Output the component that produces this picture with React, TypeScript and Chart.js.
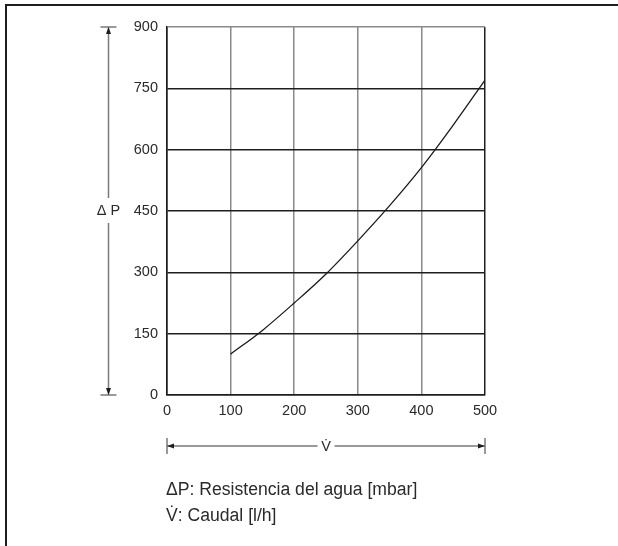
import { useEffect, useRef } from "react";
import { Chart, registerables } from "chart.js";

Chart.register(...registerables);

// ---- data ----
const flowTicks = [0, 100, 200, 300, 400, 500];
const pressureTicks = [0, 150, 300, 450, 600, 750, 900];
const flowValues = [100, 150, 200, 250, 300, 350, 400, 450, 500];
const pressureValues = [100, 158, 225, 296, 377, 463, 556, 660, 770];
const pressureSymbol = "Δ P";
const flowSymbol = "V̇";
const legendLines = ["ΔP: Resistencia del agua [mbar]", "V̇: Caudal [l/h]"];

const FONT = "'Liberation Sans', Arial, Helvetica, sans-serif";

const decorPlugin = {
  id: "decor",
  afterDraw(chart: any) {
    const ctx = chart.ctx as CanvasRenderingContext2D;
    const area = chart.chartArea;
    const xs = chart.scales.x;
    const ys = chart.scales.y;
    const top = ys.getPixelForValue(pressureTicks[pressureTicks.length - 1]);
    const bottom = ys.getPixelForValue(pressureTicks[0]);
    const left = xs.getPixelForValue(flowTicks[0]);
    const right = xs.getPixelForValue(flowTicks[flowTicks.length - 1]);
    ctx.save();

    // outer frame (top and left edges)
    ctx.strokeStyle = "#1e1e1e";
    ctx.lineWidth = 2;
    ctx.beginPath();
    ctx.moveTo(5, 5);
    ctx.lineTo(chart.width + 2, 5);
    ctx.moveTo(6, 4);
    ctx.lineTo(6, chart.height + 2);
    ctx.stroke();

    const lineCol = "#7a7a7a";
    const headCol = "#1e1e1e";

    // vertical dimension arrow
    const vx = left - 58.5;
    const vMid = (top + bottom) / 2;
    ctx.strokeStyle = lineCol;
    ctx.lineWidth = 1.5;
    ctx.beginPath();
    ctx.moveTo(vx - 8, top);
    ctx.lineTo(vx + 8, top);
    ctx.moveTo(vx - 8, bottom);
    ctx.lineTo(vx + 8, bottom);
    ctx.moveTo(vx, top);
    ctx.lineTo(vx, vMid - 13);
    ctx.moveTo(vx, vMid + 12);
    ctx.lineTo(vx, bottom);
    ctx.stroke();
    ctx.fillStyle = headCol;
    ctx.beginPath();
    ctx.moveTo(vx, top);
    ctx.lineTo(vx - 2.5, top + 7);
    ctx.lineTo(vx + 2.5, top + 7);
    ctx.closePath();
    ctx.fill();
    ctx.beginPath();
    ctx.moveTo(vx, bottom);
    ctx.lineTo(vx - 2.5, bottom - 7);
    ctx.lineTo(vx + 2.5, bottom - 7);
    ctx.closePath();
    ctx.fill();

    ctx.fillStyle = "#2a2a2a";
    ctx.font = `14.5px ${FONT}`;
    ctx.textAlign = "center";
    ctx.textBaseline = "middle";
    ctx.fillText(pressureSymbol, vx, vMid);

    // horizontal dimension arrow
    const hy = area.bottom + 51;
    const hMid = (left + right) / 2;
    ctx.strokeStyle = lineCol;
    ctx.lineWidth = 1.5;
    ctx.beginPath();
    ctx.moveTo(left, hy - 8);
    ctx.lineTo(left, hy + 8);
    ctx.moveTo(right, hy - 8);
    ctx.lineTo(right, hy + 8);
    ctx.moveTo(left, hy);
    ctx.lineTo(hMid - 8.5, hy);
    ctx.moveTo(hMid + 8.5, hy);
    ctx.lineTo(right, hy);
    ctx.stroke();
    ctx.fillStyle = headCol;
    ctx.beginPath();
    ctx.moveTo(left, hy);
    ctx.lineTo(left + 7, hy - 2.5);
    ctx.lineTo(left + 7, hy + 2.5);
    ctx.closePath();
    ctx.fill();
    ctx.beginPath();
    ctx.moveTo(right, hy);
    ctx.lineTo(right - 7, hy - 2.5);
    ctx.lineTo(right - 7, hy + 2.5);
    ctx.closePath();
    ctx.fill();

    ctx.fillStyle = "#2a2a2a";
    ctx.font = `14.5px ${FONT}`;
    ctx.textAlign = "center";
    ctx.textBaseline = "alphabetic";
    ctx.fillText(flowSymbol, hMid, hy + 5);

    // legend text
    ctx.font = `17.6px ${FONT}`;
    ctx.textAlign = "left";
    ctx.fillText(legendLines[0], left - 1, area.bottom + 100);
    ctx.fillText(legendLines[1], left - 1, area.bottom + 126);

    ctx.restore();
  },
};

export default function App() {
  const canvasRef = useRef<HTMLCanvasElement | null>(null);

  useEffect(() => {
    const canvas = canvasRef.current;
    if (!canvas) return;
    Chart.defaults.font.family = FONT;
    const chart = new Chart(canvas, {
      type: "line",
      data: {
        datasets: [
          {
            data: flowValues.map((x, i) => ({ x, y: pressureValues[i] })),
            borderColor: "#1a1a1a",
            borderWidth: 1.3,
            pointRadius: 0,
            fill: false,
            cubicInterpolationMode: "monotone",
          },
        ],
      },
      options: {
        animation: false,
        responsive: false,
        devicePixelRatio: 1,
        layout: { padding: { left: 0, top: 27, right: 133, bottom: 0 } },
        plugins: {
          legend: { display: false },
          tooltip: { enabled: false },
        },
        scales: {
          x: {
            type: "linear",
            min: flowTicks[0],
            max: flowTicks[flowTicks.length - 1],
            afterFit: (s: any) => {
              s.height = 151;
            },
            afterBuildTicks: (s: any) => {
              s.ticks = flowTicks.map((v) => ({ value: v }));
            },
            grid: {
              drawTicks: false,
              lineWidth: 1.5,
              color: (c: any) =>
                c.index === 0 || c.index === flowTicks.length - 1 ? "#1e1e1e" : "#8a8a8a",
            },
            border: { display: true, color: "#1e1e1e", width: 1.5 },
            ticks: {
              padding: 7,
              color: "#2a2a2a",
              font: { size: 14.5, family: FONT },
              maxRotation: 0,
            },
          },
          y: {
            type: "linear",
            min: pressureTicks[0],
            max: pressureTicks[pressureTicks.length - 1],
            afterFit: (s: any) => {
              s.width = 167;
            },
            afterBuildTicks: (s: any) => {
              s.ticks = pressureTicks.map((v) => ({ value: v }));
            },
            grid: {
              drawTicks: false,
              lineWidth: 1.5,
              color: (c: any) =>
                c.index === pressureTicks.length - 1 ? "#8a8a8a" : "#1e1e1e",
            },
            border: { display: true, color: "#1e1e1e", width: 1.5 },
            ticks: {
              padding: 9,
              color: "#2a2a2a",
              font: { size: 14.5, family: FONT },
            },
          },
        },
      },
      plugins: [decorPlugin],
    } as any);
    return () => chart.destroy();
  }, []);

  return (
    <div style={{ position: "absolute", left: 0, top: 0, width: 618, height: 546, background: "#fff" }}>
      <canvas ref={canvasRef} width={618} height={546} style={{ width: 618, height: 546, display: "block" }} />
    </div>
  );
}
